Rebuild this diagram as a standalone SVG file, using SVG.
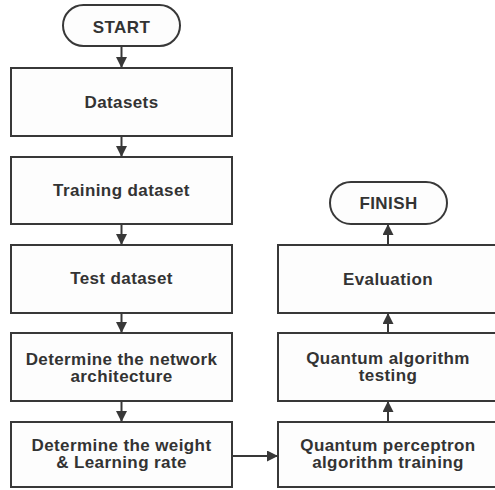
<svg xmlns="http://www.w3.org/2000/svg" width="495" height="490" viewBox="0 0 495 490">
<style>
.box{fill:#fdfdfd;stroke:#383838;stroke-width:2}
.t{font-family:"Liberation Sans",Arial,sans-serif;font-weight:bold;font-size:17px;fill:#333;text-anchor:middle;letter-spacing:0.4px}
.c{stroke:#383838;stroke-width:2;fill:none;marker-end:url(#ah)}
</style>
<defs>
<marker id="ah" viewBox="0 0 10 10" refX="10" refY="5" markerWidth="6" markerHeight="5.5" markerUnits="strokeWidth" orient="auto">
<path d="M0,0 L10,5 L0,10 z" fill="#383838"/>
</marker>
</defs>
<rect width="495" height="490" fill="#ffffff"/>
<g id="connectors">
<line class="c" x1="121.5" y1="46" x2="121.5" y2="68"/>
<line class="c" x1="121.5" y1="136" x2="121.5" y2="157"/>
<line class="c" x1="121.5" y1="224" x2="121.5" y2="245"/>
<line class="c" x1="121.5" y1="313" x2="121.5" y2="333"/>
<line class="c" x1="121.5" y1="401" x2="121.5" y2="422"/>
<line class="c" x1="232" y1="456" x2="278" y2="456"/>
<line class="c" x1="388" y1="422" x2="388" y2="401"/>
<line class="c" x1="388" y1="333" x2="388" y2="313"/>
<line class="c" x1="388" y1="245" x2="388" y2="224"/>
</g>
<g id="start">
<rect class="box" x="63" y="5" width="117" height="41" rx="20.5"/>
<text class="t" x="121.5" y="33">START</text>
</g>
<g id="datasets">
<rect class="box" x="11" y="68" width="221" height="68"/>
<text class="t" x="121.5" y="108">Datasets</text>
</g>
<g id="training-dataset">
<rect class="box" x="11" y="157" width="221" height="67"/>
<text class="t" x="121.5" y="196">Training dataset</text>
</g>
<g id="test-dataset">
<rect class="box" x="11" y="245" width="221" height="68"/>
<text class="t" x="121.5" y="284">Test dataset</text>
</g>
<g id="network-architecture">
<rect class="box" x="11" y="333" width="221" height="68"/>
<text class="t"><tspan x="121.5" y="365">Determine the network</tspan><tspan x="121.5" y="382">architecture</tspan></text>
</g>
<g id="weight-learning-rate">
<rect class="box" x="11" y="422" width="221" height="65"/>
<text class="t"><tspan x="121.5" y="451">Determine the weight</tspan><tspan x="121.5" y="468">&amp; Learning rate</tspan></text>
</g>
<g id="perceptron-training">
<rect class="box" x="278" y="422" width="221" height="65"/>
<text class="t"><tspan x="388" y="451">Quantum perceptron</tspan><tspan x="388" y="468">algorithm training</tspan></text>
</g>
<g id="algorithm-testing">
<rect class="box" x="278" y="333" width="221" height="68"/>
<text class="t"><tspan x="388" y="364">Quantum algorithm</tspan><tspan x="388" y="381">testing</tspan></text>
</g>
<g id="evaluation">
<rect class="box" x="278" y="245" width="221" height="68"/>
<text class="t" x="388" y="285">Evaluation</text>
</g>
<g id="finish">
<rect class="box" x="330" y="182" width="117" height="42" rx="21"/>
<text class="t" x="388.5" y="209">FINISH</text>
</g>
</svg>
